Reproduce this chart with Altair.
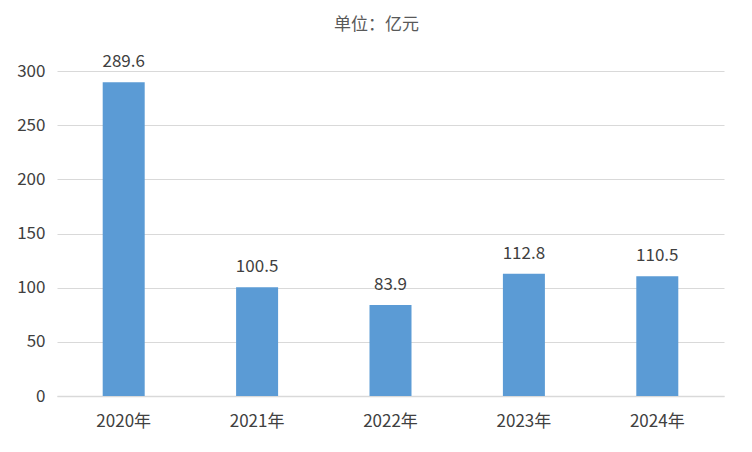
import altair as alt
import pandas as pd

years = ["2020年", "2021年", "2022年", "2023年", "2024年"]
values = [289.6, 100.5, 83.9, 112.8, 110.5]
labels = ["289.6", "100.5", "83.9", "112.8", "110.5"]

df = pd.DataFrame({"year": years, "value": values, "label": labels})

FONT = "Noto Sans CJK SC"

base = alt.Chart(df).encode(
    x=alt.X("year:N", sort=years, title=None,
            scale=alt.Scale(paddingInner=0.0, paddingOuter=0.0),
            axis=alt.Axis(labelAngle=0, labelFontSize=17, labelColor="#404040",
                          labelFont=FONT, ticks=False, labelPadding=17,
                          domainColor="#D9D9D9", domainWidth=1.5, grid=False)),
    y=alt.Y("value:Q", title=None,
            scale=alt.Scale(domain=[0, 300], nice=False),
            axis=alt.Axis(values=[0, 50, 100, 150, 200, 250, 300], labelFontSize=17,
                          labelColor="#404040", labelFont=FONT, ticks=False,
                          labelPadding=12, domain=False, gridColor="#D9D9D9",
                          gridWidth=1.2)),
)

bars = base.mark_bar(color="#5B9BD5", size=42)
text = base.mark_text(dy=-15, baseline="alphabetic", fontSize=17, font=FONT,
                      color="#404040").encode(text="label:N")

chart = (bars + text).properties(
    width=667, height=325,
    title=alt.TitleParams("单位：亿元", anchor="middle", fontSize=17, font=FONT,
                          color="#595959", fontWeight="normal", dx=-14, offset=19),
    autosize=alt.AutoSizeParams(type="none"),
    padding={"left": 49, "top": 63, "right": 12, "bottom": 40},
    background="white",
).configure_view(strokeWidth=0)

chart.save("out.html", embed_options={"renderer": "svg", "actions": False})
